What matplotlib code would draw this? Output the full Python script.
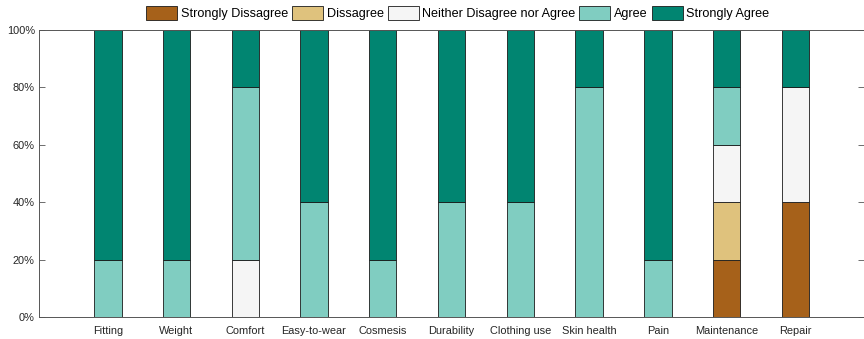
import matplotlib
matplotlib.use("Agg")
import matplotlib.pyplot as plt
import numpy as np

categories = ["Fitting", "Weight", "Comfort", "Easy-to-wear", "Cosmesis", "Durability",
              "Clothing use", "Skin health", "Pain", "Maintenance", "Repair"]
levels = ["Strongly Dissagree", "Dissagree", "Neither Disagree nor Agree", "Agree", "Strongly Agree"]

strongly_disagree = [0, 0, 0, 0, 0, 0, 0, 0, 0, 20, 40]
disagree          = [0, 0, 0, 0, 0, 0, 0, 0, 0, 20, 0]
neutral           = [0, 0, 20, 0, 0, 0, 0, 0, 0, 20, 40]
agree             = [20, 20, 60, 40, 20, 40, 40, 80, 20, 20, 0]
strongly_agree    = [80, 80, 20, 60, 80, 60, 60, 20, 80, 20, 20]

colors = ["#A6611A", "#DFC27D", "#F5F5F5", "#80CDC1", "#018571"]
ytick_values = [0, 20, 40, 60, 80, 100]

plt.rcParams["font.family"] = ["Liberation Sans", "DejaVu Sans"]
axis_gray = "#262626"

fig = plt.figure(figsize=(8.64, 3.39), dpi=100)
ax = fig.add_axes([39 / 864, 22 / 339, 825 / 864, 287 / 339])

x = np.arange(1, len(categories) + 1)
bottom = np.zeros(len(categories))
series = [strongly_disagree, disagree, neutral, agree, strongly_agree]
handles = []
for vals, col, lab in zip(series, colors, levels):
    vals = np.array(vals, dtype=float)
    h = ax.bar(x, vals, width=0.4, bottom=bottom, color=col, edgecolor="#1a1a1a",
               linewidth=0.6, label=lab, zorder=2)
    handles.append(h)
    bottom += vals

ax.set_xlim(0, 12)
ax.set_ylim(0, 100)
ax.set_xticks(x)
ax.set_xticklabels(categories, fontsize=7.9, color=axis_gray)
ax.set_yticks(ytick_values)
ax.set_yticklabels([f"{v}%" for v in ytick_values], fontsize=7.9, color=axis_gray)
ax.tick_params(direction="in", length=4, width=0.6, colors="#555555",
               top=True, right=True, labelcolor=axis_gray, pad=3)
ax.tick_params(axis="x", pad=6.5)
for s in ax.spines.values():
    s.set_color("#555555")
    s.set_linewidth(0.7)

fig.legend(handles=handles, labels=levels, loc="upper center", ncol=5,
           bbox_to_anchor=(0.53, 1.004), frameon=False, fontsize=9.1,
           handlelength=2.45, handleheight=1.25, handletextpad=0.3, columnspacing=0.3,
           borderaxespad=0.2)

fig.savefig("out.png", dpi=100)
